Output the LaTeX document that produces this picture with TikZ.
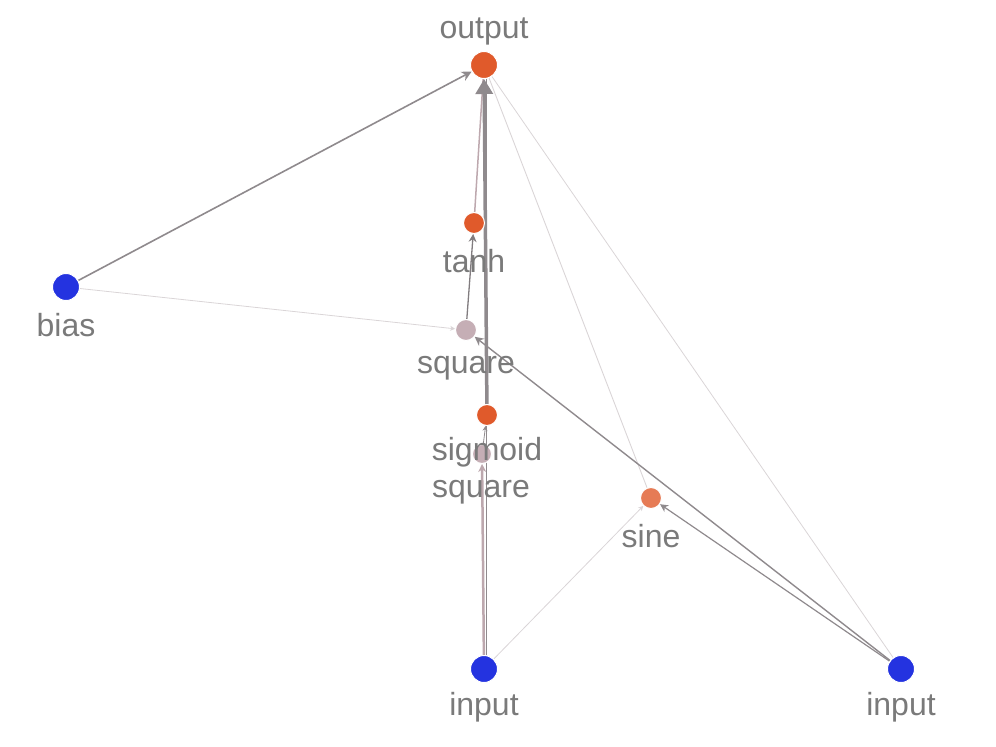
\documentclass[tikz,border=0pt]{standalone}
\usepackage{fontspec}
\setmainfont{Liberation Sans}
\usetikzlibrary{arrows.meta,backgrounds}
\definecolor{orng}{HTML}{E05A2B}
\definecolor{blu}{HTML}{2433E0}
\definecolor{pnk}{HTML}{C5AEB5}
\definecolor{edg}{HTML}{8F8A8D}
\definecolor{edgl}{HTML}{DAD5D7}
\definecolor{edgp}{HTML}{BDA8AE}
\definecolor{lbl}{HTML}{7A7A7A}
\tikzset{
  vtx/.style={circle,draw=white,line width=1pt,inner sep=0pt,minimum size=#1},
  lab/.style={text=lbl,font=\fontsize{32}{38}\selectfont,inner sep=0pt,anchor=center},
  arr/.style={-{Stealth[length=#1,width=#1]}},
  bigarr/.style={-{Triangle[length=15pt,width=17pt]}},
}
\begin{document}
\begin{tikzpicture}[x=1pt,y=-1pt]
\path[use as bounding box] (0,0) rectangle (996,747);
% nodes
\node[vtx=27pt,fill=orng] (output) at (484,65) {};
\node[vtx=21pt,fill=orng] (tanh) at (474,223) {};
\node[vtx=27pt,fill=blu] (bias) at (66,287) {};
\node[vtx=21pt,fill=pnk] (sq1) at (466,330) {};
\node[vtx=21pt,fill=orng] (sigmoid) at (487,415) {};
\node[vtx=19pt,fill=pnk] (sq2) at (482,454) {};
\node[vtx=21pt,fill=orng!80!white] (sine) at (651,498) {};
\node[vtx=27pt,fill=blu] (in1) at (484,669) {};
\node[vtx=27pt,fill=blu] (in2) at (901,669) {};
% labels
\node[lab] (output-l) at (484,31) {output};
\node[lab] (tanh-l) at (474,261) {tanh};
\node[lab] (bias-l) at (66,325) {bias};
\node[lab] (sq1-l) at (466,368) {square};
\node[lab] (sigmoid-l) at (487,452) {sigmoid};
\node[lab] (sq2-l) at (481,492) {square};
\node[lab] (sine-l) at (651,536) {sine};
\node[lab] (in1-l) at (484,707) {input};
\node[lab] (in2-l) at (901,707) {input};
% edges
\begin{scope}[on background layer]
\draw[edgl,line width=0.8pt] (in2) -- (output);
\draw[edgl,line width=0.9pt] (sine) -- (output);
\draw[edgl,line width=0.8pt,arr=5pt] (in1) -- (sine);
\draw[edgl,line width=0.8pt,arr=5pt] (bias) -- (sq1);
\draw[edg,line width=1.6pt,arr=10pt] (bias) -- (output);
\draw[edg,line width=1.4pt,arr=9pt] (in2) -- (sq1);
\draw[edg,line width=1.2pt,arr=8pt] (in2) -- (sine);
\draw[edg!90!black,line width=1.3pt,arr=8pt] (sq1) -- (tanh);
\draw[edgp,line width=1.5pt] (tanh) -- (output);
\draw[edg,line width=0.9pt] ([xshift=2pt]in1.north) -- ([xshift=2pt]output.south);
\draw[edgp,line width=2.5pt,arr=8pt] (in1) -- (sq2);
\draw[edg,line width=0.8pt,arr=5pt] (sq2) -- (sigmoid);
\draw[edg,line width=3.5pt,bigarr] (sigmoid) -- (output);
\end{scope}
\end{tikzpicture}
\end{document}
